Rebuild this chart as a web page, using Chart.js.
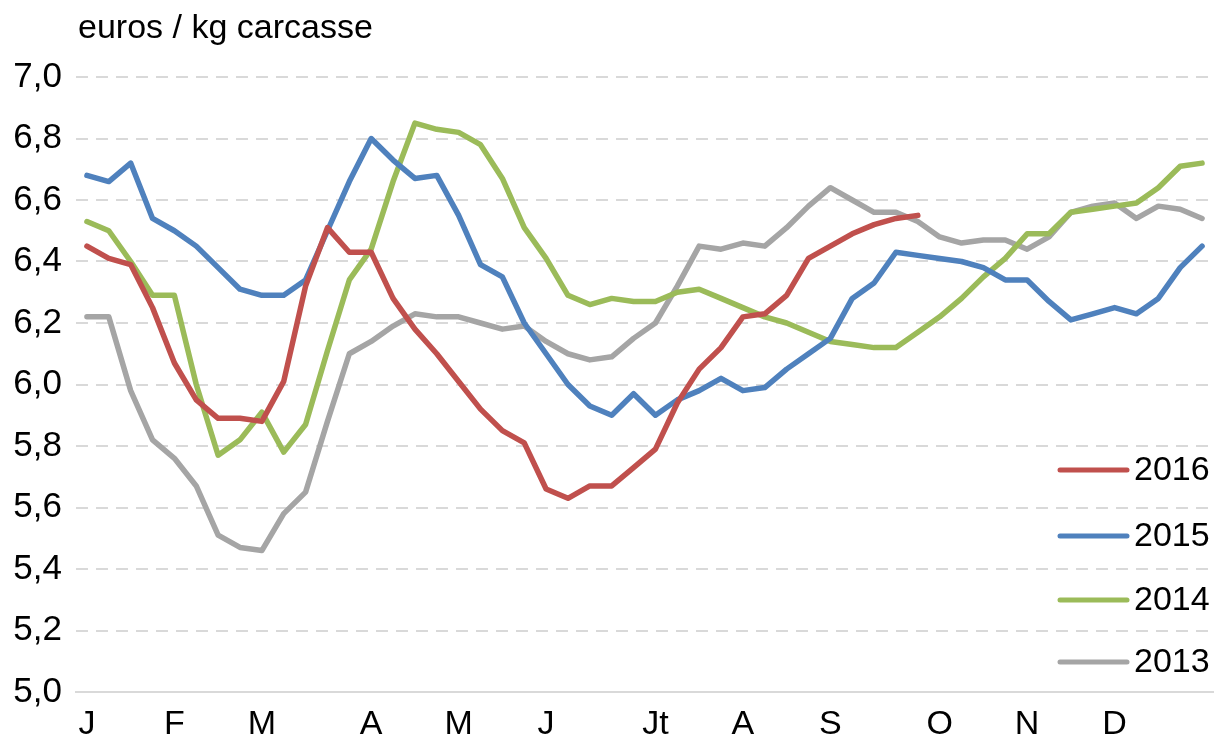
<!DOCTYPE html>
<html>
<head>
<meta charset="utf-8">
<script src="https://cdn.jsdelivr.net/npm/chart.js@4.4.1/dist/chart.umd.min.js"></script>
<style>
html,body{margin:0;padding:0;background:#fff;}
#c{display:block;}
</style>
</head>
<body>
<canvas id="c" width="1217" height="745"></canvas>
<script>
// Week categories (52 weeks), month initials shown at the first week of each month
const weekLabels = ["J","","","","F","","","","M","","","","","A","","","","M","","","","J","","","","","Jt","","","","A","","","","S","","","","","O","","","","N","","","","D","","","",""];

const seriesNames = ["2016","2015","2014","2013"];

const values2016 = [6.45,6.41,6.39,6.25,6.07,5.95,5.89,5.89,5.88,6.01,
  6.32,6.51,6.43,6.43,6.28,6.18,6.10,6.01,5.92,5.85,
  5.81,5.66,5.63,5.67,5.67,5.73,5.79,5.94,6.05,6.12,
  6.22,6.23,6.29,6.41,6.45,6.49,6.52,6.54,6.55];

const values2015 = [6.68,6.66,6.72,6.54,6.50,6.45,6.38,6.31,6.29,6.29,
  6.34,6.50,6.66,6.80,6.73,6.67,6.68,6.55,6.39,6.35,
  6.20,6.10,6.00,5.93,5.90,5.97,5.90,5.95,5.98,6.02,
  5.98,5.99,6.05,6.10,6.15,6.28,6.33,6.43,6.42,6.41,
  6.40,6.38,6.34,6.34,6.27,6.21,6.23,6.25,6.23,6.28,
  6.38,6.45];

const values2014 = [6.53,6.50,6.40,6.29,6.29,6.00,5.77,5.82,5.91,5.78,
  5.87,6.11,6.34,6.44,6.66,6.85,6.83,6.82,6.78,6.67,
  6.51,6.41,6.29,6.26,6.28,6.27,6.27,6.30,6.31,6.28,
  6.25,6.22,6.20,6.17,6.14,6.13,6.12,6.12,6.17,6.22,
  6.28,6.35,6.41,6.49,6.49,6.56,6.57,6.58,6.59,6.64,
  6.71,6.72];

const values2013 = [6.22,6.22,5.98,5.82,5.76,5.67,5.51,5.47,5.46,5.58,
  5.65,5.88,6.10,6.14,6.19,6.23,6.22,6.22,6.20,6.18,
  6.19,6.14,6.10,6.08,6.09,6.15,6.20,6.32,6.45,6.44,
  6.46,6.45,6.51,6.58,6.64,6.60,6.56,6.56,6.53,6.48,
  6.46,6.47,6.47,6.44,6.48,6.56,6.58,6.59,6.54,6.58,
  6.57,6.54];

const yAxisTitle = "euros / kg carcasse";
const yMin = 5.0, yMax = 7.0, yStep = 0.2;

const colors = ["#c0504d","#4f81bd","#9bbb59","#a5a5a5"];
const FONT = '"Liberation Sans", Arial, sans-serif';

Chart.defaults.font.family = FONT;
Chart.defaults.color = "#000";

const allValues = [values2016, values2015, values2014, values2013];

const datasets = seriesNames.map((name, i) => ({
  label: name,
  data: allValues[i],
  borderColor: colors[i],
  backgroundColor: colors[i],
  borderWidth: 5.5,
  pointRadius: 0,
  pointHoverRadius: 0,
  tension: 0,
  fill: false,
  borderJoinStyle: "round",
  borderCapStyle: "round"
}));

const titlePlugin = {
  id: "unitTitle",
  afterDraw(chart) {
    const ctx = chart.ctx;
    ctx.save();
    ctx.font = "34px " + FONT;
    ctx.fillStyle = "#000";
    ctx.textAlign = "left";
    ctx.textBaseline = "middle";
    ctx.fillText(yAxisTitle, 78, 29);
    ctx.restore();
  }
};

const legendPlugin = {
  id: "sideLegend",
  afterDraw(chart) {
    const ctx = chart.ctx;
    const ys = [470, 536, 600, 662];
    ctx.save();
    chart.data.datasets.forEach((ds, i) => {
      const y = ys[i];
      ctx.strokeStyle = ds.borderColor;
      ctx.lineWidth = 5;
      ctx.lineCap = "round";
      ctx.beginPath();
      ctx.moveTo(1060, y);
      ctx.lineTo(1127, y);
      ctx.stroke();
      ctx.font = "34px " + FONT;
      ctx.fillStyle = "#000";
      ctx.textAlign = "left";
      ctx.textBaseline = "middle";
      ctx.fillText(ds.label, 1134, y + 1);
    });
    ctx.restore();
  }
};

new Chart(document.getElementById("c"), {
  type: "line",
  data: { labels: weekLabels, datasets },
  plugins: [titlePlugin, legendPlugin],
  options: {
    responsive: false,
    animation: false,
    devicePixelRatio: 1,
    layout: { padding: { top: 77, right: 4, left: 0, bottom: 0 } },
    plugins: {
      legend: { display: false },
      title: { display: false },
      tooltip: { enabled: false }
    },
    scales: {
      x: {
        type: "category",
        offset: true,
        grid: { display: false, drawTicks: false },
        border: { display: true, color: "#d9d9d9", width: 2 },
        ticks: {
          autoSkip: false,
          maxRotation: 0,
          minRotation: 0,
          padding: 12,
          font: { size: 34 },
          color: "#000"
        },
        afterFit(scale) { scale.height = 53; }
      },
      y: {
        min: yMin,
        max: yMax,
        grid: { color: "#d9d9d9", lineWidth: 2, drawTicks: false },
        border: { display: false, dash: [12, 8] },
        ticks: {
          stepSize: yStep,
          padding: 14,
          font: { size: 35 },
          color: "#000",
          callback: (v) => v.toFixed(1).replace(".", ",")
        },
        afterFit(scale) { scale.width = 76; }
      }
    }
  }
});
</script>
</body>
</html>
